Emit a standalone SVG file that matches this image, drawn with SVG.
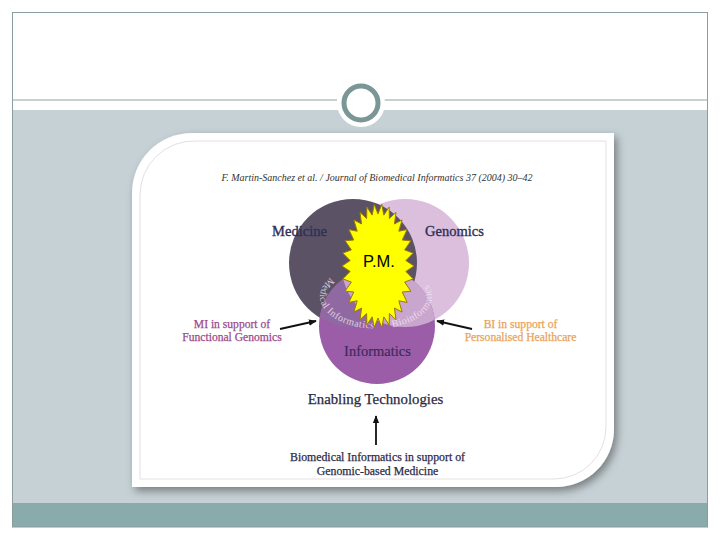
<svg xmlns="http://www.w3.org/2000/svg" width="720" height="540" viewBox="0 0 720 540">
<style>
.serif{font-family:"Liberation Serif","Times New Roman",serif}
.big{font-size:14.5px;fill:#2d3058;stroke:#2d3058;stroke-width:0.35;text-anchor:middle}
.side{font-size:11.6px;text-anchor:middle;stroke-width:0.25}
.arrow{stroke:#111;stroke-width:1.8;fill:none;marker-end:url(#ah)}
.arc{font-size:10px;fill:#f3e8f5;fill-opacity:0.8;letter-spacing:0.5px}
</style>
<defs>
<filter id="sh" x="-10%" y="-10%" width="125%" height="125%">
<feDropShadow dx="3" dy="4" stdDeviation="4" flood-color="#000" flood-opacity="0.4"/>
</filter>
<clipPath id="cInf"><circle cx="377" cy="326" r="58"/></clipPath>
<marker id="ah" viewBox="0 0 10 10" refX="9" refY="5" markerWidth="8" markerHeight="8" orient="auto" markerUnits="userSpaceOnUse">
<path d="M0,1 L10,5 L0,9 z" fill="#111"/>
</marker>
<path id="arcPath" d="M 333 276 A 56 32 0 1 0 419 276"/>
</defs>

<g id="background">
<rect x="0" y="0" width="720" height="540" fill="#ffffff"/>
<rect x="12" y="110" width="696" height="393" fill="#c6d1d6"/>
<rect x="12" y="503" width="696" height="24" fill="#8aabab"/>
<rect x="12.5" y="12.5" width="695" height="514.5" fill="none" stroke="#8a9c9c" stroke-width="1"/>
<line x1="12" y1="100" x2="337" y2="100" stroke="#8fa3a3" stroke-width="1"/>
<line x1="384" y1="100" x2="708" y2="100" stroke="#8fa3a3" stroke-width="1"/>
<circle cx="361" cy="103" r="24" fill="#ffffff"/>
<circle cx="361" cy="103" r="17" fill="none" stroke="#7a9696" stroke-width="5"/>
</g>

<g id="card">
<path d="M 192 133 H 614 V 429 A 58 58 0 0 1 556 487 H 132 V 193 A 60 60 0 0 1 192 133 Z" fill="#ffffff" filter="url(#sh)"/>
<path d="M 196 141 H 606 V 427 A 52 52 0 0 1 554 479 H 140 V 195 A 54 54 0 0 1 196 141 Z" fill="none" stroke="#e4e0e4" stroke-width="1"/>
<text class="serif" x="377" y="181" font-size="10" font-style="italic" fill="#333" text-anchor="middle">F. Martin-Sanchez et al. / Journal of Biomedical Informatics 37 (2004) 30–42</text>
</g>

<g id="genomics">
<circle cx="405" cy="263" r="64" fill="#dbbfdc"/>
</g>
<g id="medicine">
<circle cx="353" cy="263" r="64" fill="#5c5266"/>
</g>
<g id="informatics">
<circle cx="377" cy="326" r="58" fill="#9b5ca8"/>
<circle cx="353" cy="263" r="64" fill="#9068a2" clip-path="url(#cInf)"/>
<circle cx="405" cy="263" r="64" fill="#c9a6ce" clip-path="url(#cInf)"/>
<text class="serif arc"><textPath href="#arcPath" startOffset="3">Medical Informatics</textPath></text>
<text class="serif arc"><textPath href="#arcPath" startOffset="112">Bioinformatics</textPath></text>
</g>

<g id="labels">
<text class="serif big" x="299.5" y="236">Medicine</text>
<text class="serif big" x="454.5" y="236">Genomics</text>
<text class="serif big" x="377.5" y="356" style="fill:#3d2b5c;stroke:#3d2b5c;stroke-width:0.2">Informatics</text>
<text class="serif side" x="232" y="328" fill="#9b4a8e" stroke="#9b4a8e">MI in support of</text>
<text class="serif side" x="232" y="341" fill="#9b4a8e" stroke="#9b4a8e">Functional Genomics</text>
<text class="serif side" x="520.5" y="328" fill="#e9a35a" stroke="#e9a35a">BI in support of</text>
<text class="serif side" x="520.5" y="341" fill="#e9a35a" stroke="#e9a35a">Personalised Healthcare</text>
<text class="serif" x="375.5" y="404" font-size="14.8" fill="#2a2a40" stroke="#2a2a40" stroke-width="0.25" text-anchor="middle">Enabling Technologies</text>
<text class="serif" x="377.5" y="461" font-size="11.8" fill="#2b2b48" stroke="#2b2b48" stroke-width="0.25" text-anchor="middle">Biomedical Informatics in support of</text>
<text class="serif" x="377.5" y="475" font-size="11.8" fill="#2b2b48" stroke="#2b2b48" stroke-width="0.25" text-anchor="middle">Genomic-based Medicine</text>
</g>

<g id="pm">
<polygon transform="translate(378,266)" fill="#ffff00" stroke="#9a7a00" stroke-width="1" points="36,0 27.85,5.43 35.21,12.89 26.63,16.07 32.89,25.22 24.25,26 29.12,36.44 20.81,34.79 24.09,46.07 16.46,42.07 18,53.69 11.39,47.5 11.12,58.97 5.82,50.86 3.76,61.66 0,52 -3.76,61.66 -5.82,50.86 -11.12,58.97 -11.39,47.5 -18,53.69 -16.46,42.07 -24.09,46.07 -20.81,34.79 -29.12,36.44 -24.25,26 -32.89,25.22 -26.63,16.07 -35.21,12.89 -27.85,5.43 -36,0 -27.85,-5.43 -35.21,-12.89 -26.63,-16.07 -32.89,-25.22 -24.25,-26 -29.12,-36.44 -20.81,-34.79 -24.09,-46.07 -16.46,-42.07 -18,-53.69 -11.39,-47.5 -11.12,-58.97 -5.82,-50.86 -3.76,-61.66 0,-52 3.76,-61.66 5.82,-50.86 11.12,-58.97 11.39,-47.5 18,-53.69 16.46,-42.07 24.09,-46.07 20.81,-34.79 29.12,-36.44 24.25,-26 32.89,-25.22 26.63,-16.07 35.21,-12.89 27.85,-5.43"/>
<text x="379" y="267" font-family="Liberation Sans, Arial, sans-serif" font-size="16.5" fill="#000" text-anchor="middle">P.M.</text>
</g>

<g id="connectors">
<path class="arrow" d="M 280 329 L 316 321"/>
<path class="arrow" d="M 472 329 L 437 321"/>
<path class="arrow" d="M 376 445 L 376 416"/>
</g>
</svg>
